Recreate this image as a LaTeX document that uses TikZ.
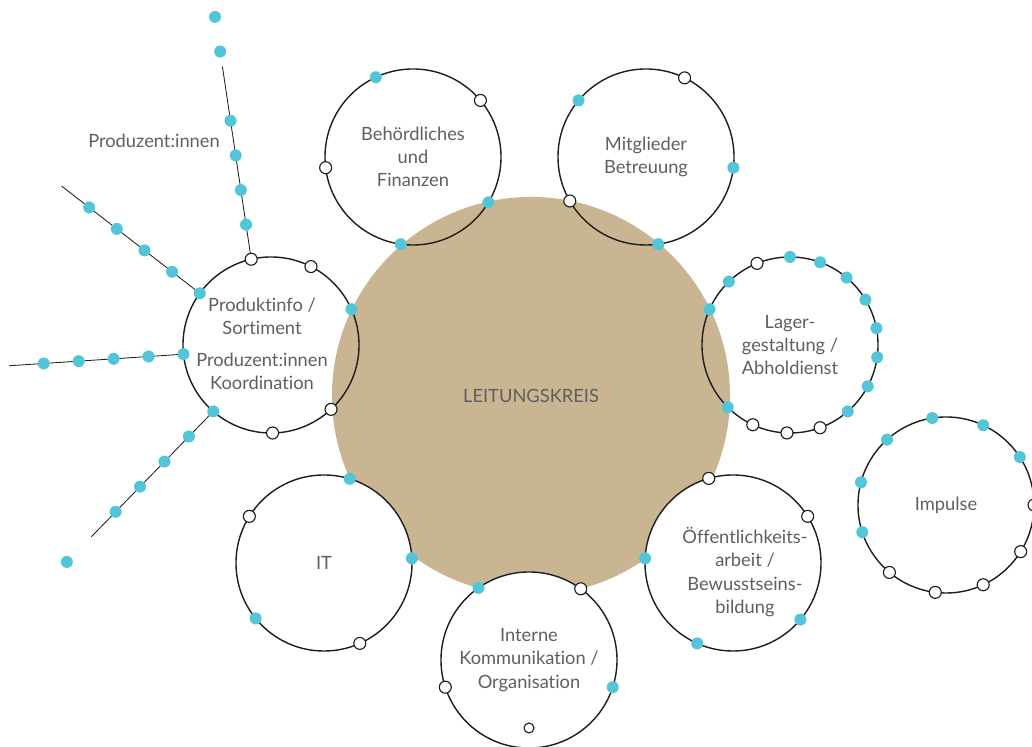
\documentclass[tikz,border=0pt]{standalone}
\usepackage{fontspec}
\setmainfont{Lato}[Ligatures=NoCommon]
\usetikzlibrary{calc}
\definecolor{kraft}{RGB}{201,181,146}
\definecolor{dotblue}{RGB}{82,198,216}
\definecolor{txtgray}{RGB}{95,95,95}
\definecolor{ink}{RGB}{30,30,30}
\begin{document}
\begin{tikzpicture}[x=0.025cm,y=0.025cm,font=\fontsize{13pt}{16.6pt}\selectfont]
\tikzstyle{group}=[circle, draw=ink, line width=1pt, minimum size=4.4cm, inner sep=0pt, outer sep=0pt, align=center, text=txtgray]
\tikzstyle{txt}=[align=center, text=txtgray, inner sep=0pt]
\tikzstyle{cy}=[circle, fill=dotblue, minimum size=0.3cm, inner sep=0pt]
\tikzstyle{op}=[circle, draw=ink, fill=white, line width=0.8pt, minimum size=0.3cm, inner sep=0pt]
\tikzstyle{ray}=[draw=ink, line width=0.6pt]
\useasboundingbox (0,0) rectangle (1032,747);
\clip (0,0) rectangle (1032,747);
\node[circle, fill=kraft, minimum size=9.95cm, inner sep=0pt, text=txtgray] (LK) at (531,351) {LEITUNGSKREIS};
\node[group] (BF) at (413,590) {Behördliches\\und\\Finanzen};
\node[group] (MB) at (646,590) {Mitglieder\\Betreuung};
\node[group] (PS) at (271,402) {};
\node[txt] (PSt) at (262,403) {Produktinfo /\\Sortiment\\[6pt]Produzent:innen\\Koordination};
\node[group] (LA) at (790,402) {Lager-\\gestaltung /\\Abholdienst};
\node[group] (IM) at (946,242) {Impulse};
\node[group, fill=white] (IT) at (324,184) {IT};
\node[group, fill=white] (IK) at (529,87) {Interne\\Kommunikation /\\Organisation};
\node[group, fill=white] (OB) at (733,184) {};
\node[txt] (OBt) at (745,175) {Öffentlichkeits-\\arbeit /\\Bewusstseins-\\bildung};
\node[txt] (PZ) at (154,606) {Produzent:innen};
\coordinate (R1) at ($(PS.103)+(98.5:195)$);
\coordinate (R2) at ($(PS.144)+(142.2:175)$);
\coordinate (R3) at ($(PS.-174)+(-176.2:175)$);
\coordinate (R4) at ($(PS.-131)+(-134.2:175)$);
\draw[ray] (PS.103) -- (R1);
\draw[ray] (PS.144) -- (R2);
\draw[ray] (PS.-174) -- (R3);
\draw[ray] (PS.-131) -- (R4);
\path (PS.103) ++(98.5:35) node[cy] (R1a) {} ++(98.5:35) node[cy] (R1b) {} ++(98.5:35) node[cy] (R1c) {}
      ++(98.5:35) node[cy] (R1d) {} ++(98.5:70) node[cy] (R1e) {} ++(98.5:35) node[cy] (R1f) {};
\path (PS.144) ++(142.2:35) node[cy] (R2a) {} ++(142.2:35) node[cy] (R2b) {} ++(142.2:35) node[cy] (R2c) {}
      ++(142.2:35) node[cy] (R2d) {};
\path (PS.-174) ++(-176.2:35) node[cy] (R3a) {} ++(-176.2:35) node[cy] (R3b) {} ++(-176.2:35) node[cy] (R3c) {}
      ++(-176.2:35) node[cy] (R3d) {};
\path (PS.-131) ++(-134.2:35) node[cy] (R4a) {} ++(-134.2:35) node[cy] (R4b) {} ++(-134.2:35) node[cy] (R4c) {}
      ++(-134.2:35) node[cy] (R4d) {} ++(-134.2:70) node[cy] (R4e) {};
\path (BF.115) node[cy] (BF1) {} (BF.40) node[op] (BF2) {} (BF.-173) node[op] (BF3) {}
      (BF.-31) node[cy] (BF4) {} (BF.-98) node[cy] (BF5) {};
\path (MB.64) node[op] (MB1) {} (MB.140) node[cy] (MB2) {} (MB.-7) node[cy] (MB3) {}
      (MB.-150) node[op] (MB4) {} (MB.-82) node[cy] (MB5) {};
\path (PS.103) node[op] (PS1) {} (PS.63) node[op] (PS2) {} (PS.144) node[cy] (PS3) {}
      (PS.24) node[cy] (PS4) {} (PS.-174) node[cy] (PS5) {} (PS.-47) node[op] (PS6) {}
      (PS.-131) node[cy] (PS7) {} (PS.-89) node[op] (PS8) {};
\path (LA.156) node[cy] (LA1) {} (LA.134) node[cy] (LA2) {} (LA.112) node[op] (LA3) {}
      (LA.90) node[cy] (LA4) {} (LA.70) node[cy] (LA5) {} (LA.50) node[cy] (LA6) {}
      (LA.31) node[cy] (LA7) {} (LA.11) node[cy] (LA8) {} (LA.-8) node[cy] (LA9) {}
      (LA.-28) node[cy] (LA10) {} (LA.-49) node[cy] (LA11) {} (LA.-70) node[op] (LA12) {}
      (LA.-92) node[op] (LA13) {} (LA.-115) node[op] (LA14) {} (LA.-135) node[cy] (LA15) {};
\path (IM.165) node[cy] (IM1) {} (IM.132) node[cy] (IM2) {} (IM.99) node[cy] (IM3) {}
      (IM.65) node[cy] (IM4) {} (IM.33) node[cy] (IM5) {} (IM.0) node[op] (IM6) {}
      (IM.-32) node[op] (IM7) {} (IM.-65) node[op] (IM8) {} (IM.-97) node[op] (IM9) {}
      (IM.-130) node[op] (IM10) {} (IM.-162) node[cy] (IM11) {};
\path (IT.73) node[cy] (IT1) {} (IT.148) node[op] (IT2) {} (IT.3) node[cy] (IT3) {}
      (IT.-141) node[cy] (IT4) {} (IT.-66) node[op] (IT5) {};
\path (OB.106) node[op] (OB1) {} (OB.32) node[op] (OB2) {} (OB.177) node[cy] (OB3) {}
      (OB.-40) node[cy] (OB4) {} (OB.-114) node[cy] (OB5) {};
\path (IK.125) node[cy] (IK1) {} (IK.54) node[op] (IK2) {} (IK.-162) node[op] (IK3) {}
      (IK.-18) node[cy] (IK4) {} (529,19) node[op, minimum size=0.25cm] (IK5) {};
\end{tikzpicture}
\end{document}
